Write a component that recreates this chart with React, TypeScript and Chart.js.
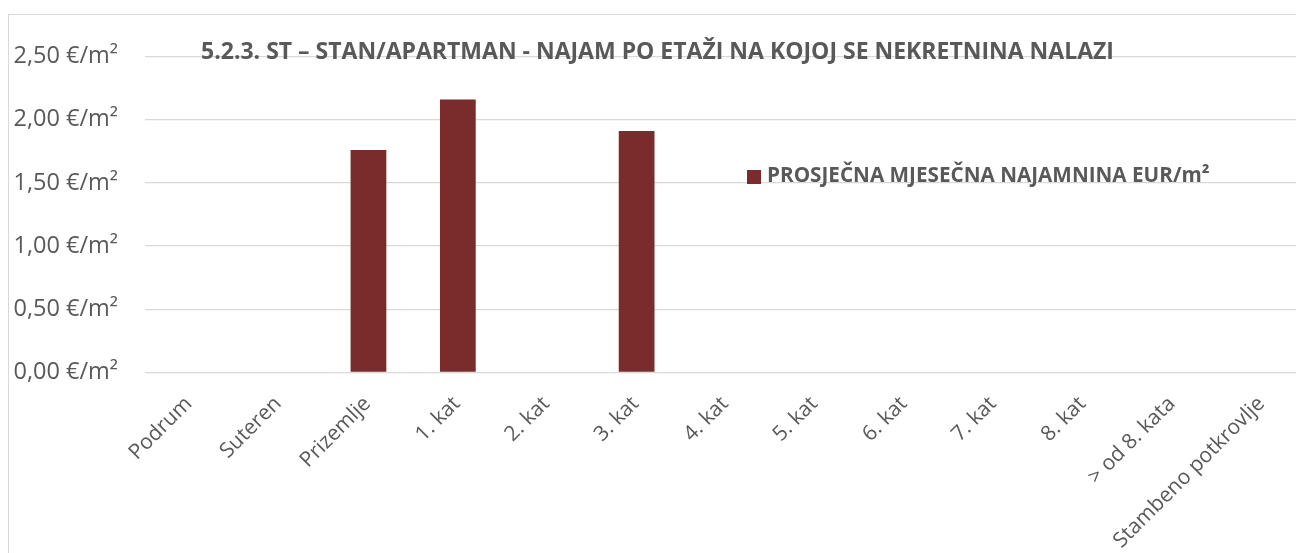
import React, { useEffect, useRef } from "react";
import { Chart, registerables } from "chart.js";

Chart.register(...registerables);

const categories = [
  "Podrum",
  "Suteren",
  "Prizemlje",
  "1. kat",
  "2. kat",
  "3. kat",
  "4. kat",
  "5. kat",
  "6. kat",
  "7. kat",
  "8. kat",
  "> od 8. kata",
  "Stambeno potkrovlje",
];

const rentValues: (number | null)[] = [null, null, 1.76, 2.16, null, 1.91, null, null, null, null, null, null, null];

const yTickValues = [0, 0.5, 1, 1.5, 2, 2.5];
const yTickLabels = ["0,00 €/m²", "0,50 €/m²", "1,00 €/m²", "1,50 €/m²", "2,00 €/m²", "2,50 €/m²"];

const seriesLabel = "PROSJEČNA MJESEČNA NAJAMNINA EUR/m²";
const chartTitle = "5.2.3. ST – STAN/APARTMAN - NAJAM PO ETAŽI NA KOJOJ SE NEKRETNINA NALAZI";

const BAR_COLOR = "#7a2b2b";
const TEXT_COLOR = "#595959";
const GRID_COLOR = "#d9d9d9";
const FONT = "'Open Sans', 'DejaVu Sans', sans-serif";

const CANVAS_W = 1320;
const CANVAS_H = 546;
const AREA_LEFT = 136;
const AREA_TOP = 41.5;
const AREA_BOTTOM = 357.5;
const AREA_RIGHT = 1298;

const overlayPlugin = {
  id: "overlayText",
  afterDraw(chart: any) {
    const ctx = chart.ctx;
    ctx.save();
    // title
    ctx.font = `bold 23px ${FONT}`;
    ctx.fillStyle = TEXT_COLOR;
    ctx.textAlign = "center";
    ctx.textBaseline = "middle";
    ctx.fillText(chartTitle, 648.5, 37);
    // legend
    const ds = chart.data.datasets[0];
    ctx.fillStyle = ds.backgroundColor;
    ctx.fillRect(738, 155, 14, 14);
    ctx.font = `bold 20.7px ${FONT}`;
    ctx.fillStyle = TEXT_COLOR;
    ctx.textAlign = "left";
    ctx.fillText(ds.label, 758, 161.5);
    ctx.restore();
  },
};

export default function App() {
  const canvasRef = useRef<HTMLCanvasElement | null>(null);

  useEffect(() => {
    if (!canvasRef.current) return;
    const chart = new Chart(canvasRef.current, {
      type: "bar",
      data: {
        labels: categories,
        datasets: [
          {
            label: seriesLabel,
            data: rentValues,
            backgroundColor: BAR_COLOR,
            borderWidth: 0,
            categoryPercentage: 1,
            barPercentage: 0.4,
          },
        ],
      },
      options: {
        responsive: false,
        animation: false,
        devicePixelRatio: 1,
        layout: {
          padding: { left: 0, top: AREA_TOP, right: CANVAS_W - AREA_RIGHT, bottom: 0 },
        },
        plugins: {
          legend: { display: false },
          title: { display: false },
          tooltip: { enabled: false },
        },
        scales: {
          x: {
            grid: { display: false },
            border: { display: false },
            ticks: {
              color: TEXT_COLOR,
              font: { family: FONT, size: 21 },
              minRotation: 45,
              maxRotation: 45,
              autoSkip: false,
              padding: 11,
              labelOffset: -1,
            },
            afterFit(scale: any) {
              scale.height = CANVAS_H - AREA_BOTTOM;
            },
          },
          y: {
            min: 0,
            max: 2.5,
            grid: { color: GRID_COLOR, lineWidth: 1.3, drawTicks: false },
            border: { display: false },
            afterBuildTicks(scale: any) {
              scale.ticks = yTickValues.map((v) => ({ value: v }));
            },
            ticks: {
              color: TEXT_COLOR,
              font: { family: FONT, size: 23.5 },
              padding: 27,
              callback: (value: any) => {
                const i = yTickValues.indexOf(Number(value));
                return i >= 0 ? yTickLabels[i] : "";
              },
            },
            afterFit(scale: any) {
              scale.width = AREA_LEFT;
            },
          },
        },
      },
      plugins: [overlayPlugin],
    });
    return () => chart.destroy();
  }, []);

  return (
    <div
      style={{
        position: "fixed",
        left: 0,
        top: 0,
        width: 1296,
        height: 553,
        overflow: "hidden",
        background: "#ffffff",
      }}
    >
      <div
        style={{
          position: "absolute",
          left: 8,
          top: 14,
          width: CANVAS_W,
          height: 560,
          border: `1px solid ${GRID_COLOR}`,
          boxSizing: "content-box",
        }}
      >
        <canvas
          ref={canvasRef}
          width={CANVAS_W}
          height={CANVAS_H}
          style={{ display: "block", width: CANVAS_W, height: CANVAS_H }}
        />
      </div>
    </div>
  );
}
